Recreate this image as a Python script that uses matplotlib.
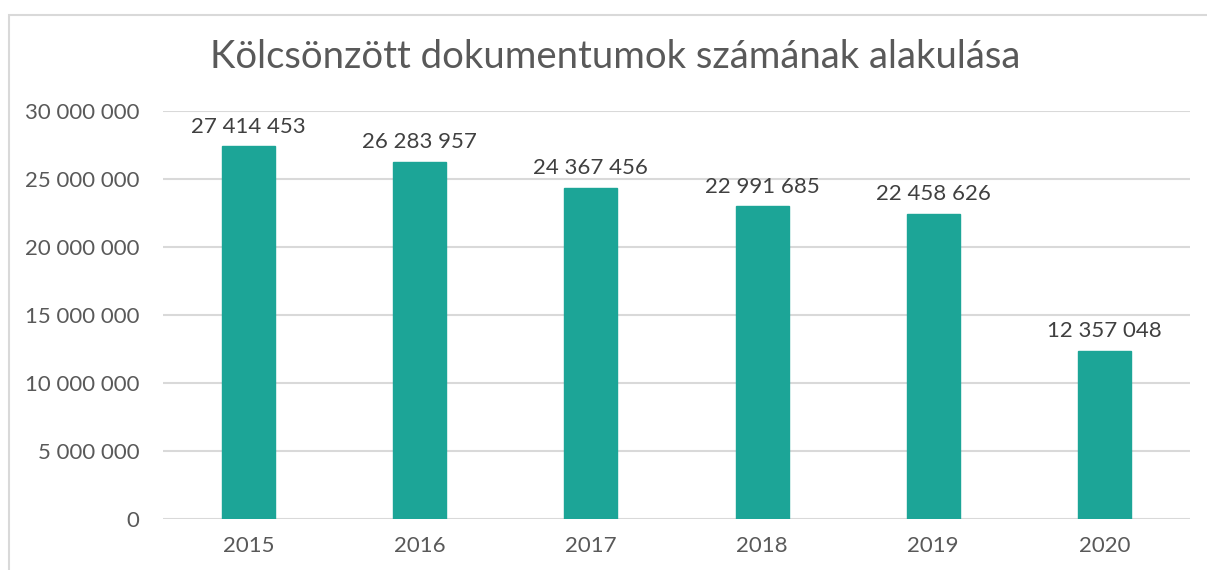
import matplotlib
matplotlib.use("Agg")
import matplotlib.pyplot as plt
from matplotlib.ticker import FuncFormatter
from matplotlib.patches import Rectangle

years = ["2015", "2016", "2017", "2018", "2019", "2020"]
loans = [27414453, 26283957, 24367456, 22991685, 22458626, 12357048]
title = "Kölcsönzött dokumentumok számának alakulása"

plt.rcParams['font.family'] = ['Lato', 'DejaVu Sans']

def fmt(v):
    return f"{int(v):,}".replace(",", " ")

fig = plt.figure(figsize=(12.07, 5.70), dpi=100)
fig.patches.append(Rectangle((9/1207, -0.1), 1.2, 1 - 15/570 + 0.1, transform=fig.transFigure,
                             fill=False, edgecolor="#d9d9d9", linewidth=1.5))
ax = fig.add_axes([163/1207, 1 - 519/570, (1190-163)/1207, (519-111)/570])

x = range(len(years))
bars = ax.bar(x, loans, width=0.31, color="#1ca597", edgecolor="#1ca597", zorder=3)
for xi, v in zip(x, loans):
    ax.text(xi, v + 700000, fmt(v), ha="center", va="bottom", fontsize=16, color="#404040")

ax.set_xlim(-0.5, len(years) - 0.5)
ax.set_ylim(0, 30000000)
ax.set_yticks(range(0, 30000001, 5000000))
ax.yaxis.set_major_formatter(FuncFormatter(lambda v, p: fmt(v)))
ax.set_xticks(list(x))
ax.set_xticklabels(years)
ax.tick_params(axis="both", length=0, labelsize=16, labelcolor="#595959")
ax.tick_params(axis="y", pad=17)
ax.tick_params(axis="x", pad=12)
ax.grid(axis="y", color="#d9d9d9", linewidth=1.5, zorder=0)
for s in ax.spines.values():
    s.set_visible(False)

fig.text(615/1207, 1 - 57/570, title, ha="center", va="center", fontsize=27.5, color="#595959")

fig.savefig("out.png", dpi=100)
